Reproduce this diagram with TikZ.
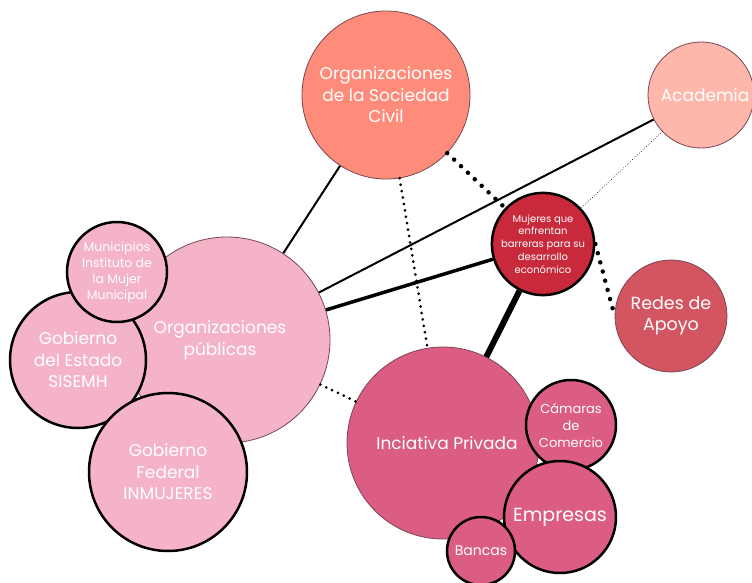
\documentclass[tikz,border=0pt]{standalone}
\usepackage{fontspec}
\setmainfont{Poppins}

\definecolor{civil}{HTML}{FF8C7B}
\definecolor{acad}{HTML}{FFB7AB}
\definecolor{mujer}{HTML}{C8293B}
\definecolor{redes}{HTML}{D25561}
\definecolor{publica}{HTML}{F4B3C6}
\definecolor{privada}{HTML}{DC5D84}
\definecolor{borde}{HTML}{7A4650}

\tikzset{
  grupo/.style={circle, draw=borde, line width=0.8pt, text=white, align=center, inner sep=0pt},
  sub/.style={circle, draw=black, line width=2.5pt, text=white, align=center, inner sep=0pt},
  lazo/.style={line width=2pt},
  lazo fuerte/.style={line width=6pt},
  puntos/.style={line width=3pt, line cap=round, dash pattern=on 0pt off 6.5pt},
  puntos gruesos/.style={line width=4.5pt, line cap=round, dash pattern=on 0pt off 9.5pt},
  puntos finos/.style={line width=0.9pt, line cap=round, dash pattern=on 0pt off 2.4pt}
}

\begin{document}
\begin{tikzpicture}[x=1pt, y=-1pt]
        \useasboundingbox (0,0) rectangle (752,583);
        % grupos
        \node[grupo, fill=civil, minimum size=168pt, font=\fontsize{17}{21.5}\selectfont] (osc) at (386,95) {Organizaciones\\de la Sociedad\\Civil};
        \node[grupo, fill=acad, minimum size=106pt, font=\fontsize{17}{21.5}\selectfont] (academia) at (701,95) {\hspace*{8pt}Academia};
        \node[grupo, fill=redes, minimum size=112pt, font=\fontsize{17.5}{21.5}\selectfont] (redes) at (671,316) {Redes de\\Apoyo};
        \node[grupo, fill=publica, minimum size=206pt, font=\fontsize{17}{21.5}\selectfont] (publicas) at (227,340) {\hspace*{-14pt}Organizaciones\\\hspace*{-14pt}públicas};
        \node[grupo, fill=privada, minimum size=192pt, font=\fontsize{17}{21.5}\selectfont] (privada) at (443,443) {\hspace*{8pt}Inciativa Privada};
        % organizaciones publicas
        \node[sub, fill=publica, minimum size=136pt, font=\fontsize{17}{21.5}\selectfont] (estado) at (78,360) {Gobierno\\del Estado\\SISEMH};
        \node[sub, fill=publica, minimum size=158pt, font=\fontsize{17}{21.5}\selectfont] (federal) at (168,472) {Gobierno\\Federal\\INMUJERES};
        \node[sub, fill=publica, minimum size=100pt, font=\fontsize{12.5}{16}\selectfont] (municipios) at (117,272) {Municipios\\Instituto de\\la Mujer\\Municipal};
        % iniciativa privada
        \node[sub, fill=privada, minimum size=90pt, font=\fontsize{13}{17}\selectfont] (camaras) at (571,425) {Cámaras\\de\\Comercio};
        \node[sub, fill=privada, minimum size=112pt, font=\fontsize{19}{22}\selectfont] (empresas) at (560,517) {Empresas};
        \node[sub, fill=privada, minimum size=68pt, font=\fontsize{14}{17}\selectfont] (bancas) at (481,551) {Bancas};
        % centro
        \node[sub, fill=mujer, minimum size=100pt, font=\fontsize{10}{12.8}\selectfont] (mujeres) at (543,244) {Mujeres que\\enfrentan\\barreras para su\\desarrollo\\económico};
        \path
                (osc) edge[lazo] (publicas)
                (academia) edge[lazo] (publicas)
                (mujeres) edge[line width=3.5pt] (publicas)
                    edge[lazo fuerte] (privada)
                (osc) edge[puntos gruesos] (mujeres)
                    edge[puntos] (privada)
                (academia) edge[puntos finos] (mujeres)
                (mujeres.east) edge[puntos gruesos] (redes.west)
                (publicas) edge[puntos] (privada);
    \end{tikzpicture}
\end{document}
